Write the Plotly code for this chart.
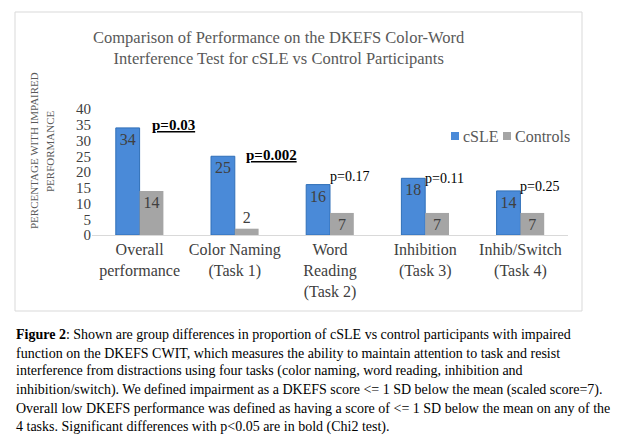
import plotly.graph_objects as go

categories = ["Overall<br>performance", "Color Naming<br>(Task 1)", "Word<br>Reading<br>(Task 2)",
              "Inhibition<br>(Task 3)", "Inhib/Switch<br>(Task 4)"]
csle = [34, 25, 16, 18, 14]
controls = [14, 2, 7, 7, 7]
p_values = ["p=0.03", "p=0.002", "p=0.17", "p=0.11", "p=0.25"]
significant = [True, True, False, False, False]
y_ticks = [0, 5, 10, 15, 20, 25, 30, 35, 40]
y_title_lines = ["PERCENTAGE WITH IMPAIRED", "PERFORMANCE"]

caption_lines = [
    "<b>Figure 2</b>: Shown are group differences in proportion of cSLE vs control participants with impaired",
    "function on the DKEFS CWIT, which measures the ability to maintain attention to task and resist",
    "interference from distractions using four tasks (color naming, word reading, inhibition and",
    "inhibition/switch). We defined impairment as a DKEFS score <= 1 SD below the mean (scaled score=7).",
    "Overall low DKEFS performance was defined as having a score of <= 1 SD below the mean on any of the",
    "4 tasks. Significant differences with p<0.05 are in bold (Chi2 test).",
]

SERIF = "Liberation Serif"
BLUE = "#4a8ad8"
GREY = "#a5a5a5"
W, H = 624, 443
OFF = 8                      # page body margin
L, T = 92 - OFF, 109 - OFF   # plot area on screen: x 92..568, y 109..235
PW, PH = 476, 126
R, B = W - L - PW, H - T - PH

# how the p labels sit relative to the top of the cSLE bar (pixels)
p_dx = [12, 11, 0, 0, 0]
p_dy = [3, 1, 8, 0, 4]


def px(x):
    return (x - OFF - L) / PW


def py(y):
    return (H - B - (y - OFF)) / PH


fig = go.Figure()
fig.add_trace(go.Bar(
    x=categories, y=csle, name="cSLE",
    marker=dict(color=BLUE, line=dict(color="#2f6fb8", width=1)),
    text=csle, textposition="auto", insidetextanchor="end", textangle=0,
    textfont=dict(family=SERIF, size=16, color="#404040"),
    outsidetextfont=dict(family=SERIF, size=16, color="#404040"),
))
fig.add_trace(go.Bar(
    x=categories, y=controls, name="Controls",
    marker=dict(color=GREY, line=dict(width=0)),
    text=controls, textposition="auto", insidetextanchor="end", textangle=0,
    textfont=dict(family=SERIF, size=16, color="#404040"),
    outsidetextfont=dict(family=SERIF, size=16, color="#404040"),
))

# p-value labels next to the cSLE bars
for i, (cat, p) in enumerate(zip(categories, p_values)):
    if significant[i]:
        txt, fsize = "<b><u>%s</u></b>" % p, 15
    else:
        txt, fsize = p, 14
    fig.add_annotation(x=cat, y=csle[i], xref="x", yref="y", text=txt,
                       showarrow=False, xanchor="left", yanchor="middle",
                       xshift=p_dx[i] - 2, yshift=p_dy[i],
                       font=dict(family=SERIF, size=fsize, color="#000000"))

# chart title
fig.add_annotation(x=px(279), y=py(48), xref="paper", yref="paper",
                   text="Comparison of Performance on the DKEFS Color-Word<br>Interference Test for cSLE vs Control Participants",
                   showarrow=False, xanchor="center", yanchor="middle",
                   font=dict(family=SERIF, size=16.5, color="#595959"))

# y axis title, two rotated lines
for line, tx in zip(y_title_lines, [34, 50]):
    fig.add_annotation(x=px(tx), y=py(151), xref="paper", yref="paper",
                       text=line, textangle=-90,
                       showarrow=False, xanchor="center", yanchor="middle",
                       font=dict(family=SERIF, size=11, color="#595959"))

# legend
legend_items = [("cSLE", BLUE, 451), ("Controls", GREY, 503)]
for name, col, lx in legend_items:
    fig.add_shape(type="rect", xref="paper", yref="paper",
                  x0=px(lx), x1=px(lx + 8), y0=py(140), y1=py(132),
                  fillcolor=col, line=dict(width=0))
    fig.add_annotation(x=px(lx + 10), y=py(136), xref="paper", yref="paper", text=name,
                       showarrow=False, xanchor="left", yanchor="middle",
                       font=dict(family=SERIF, size=16, color="#595959"))

# caption
caption_y = [334, 353, 371, 390, 408, 427]
for line, cy in zip(caption_lines, caption_y):
    fig.add_annotation(x=px(14), y=py(cy), xref="paper", yref="paper",
                       text=line, align="left",
                       showarrow=False, xanchor="left", yanchor="middle",
                       font=dict(family=SERIF, size=14, color="#000000"))

# chart border
fig.add_shape(type="rect", xref="paper", yref="paper",
              x0=px(15), x1=px(582), y0=py(311), y1=py(12),
              line=dict(color="#d9d9d9", width=1), fillcolor="rgba(0,0,0,0)")

fig.update_layout(
    width=W, height=H,
    margin=dict(l=L, r=R, t=T, b=B, autoexpand=False),
    paper_bgcolor="white", plot_bgcolor="white",
    barmode="group", bargap=0.5, bargroupgap=0,
    showlegend=False,
    font=dict(family=SERIF),
    uniformtext=dict(mode="show", minsize=16),
)
fig.update_xaxes(showline=True, linecolor="#d9d9d9", linewidth=1, ticks="",
                 tickangle=0, automargin=False,
                 tickfont=dict(family=SERIF, size=16, color="#404040"))
fig.update_yaxes(range=[0, 40], tickvals=y_ticks, showgrid=False, zeroline=False,
                 ticks="", automargin=False,
                 tickfont=dict(family=SERIF, size=15, color="#404040"))

fig.write_html("out.html")
